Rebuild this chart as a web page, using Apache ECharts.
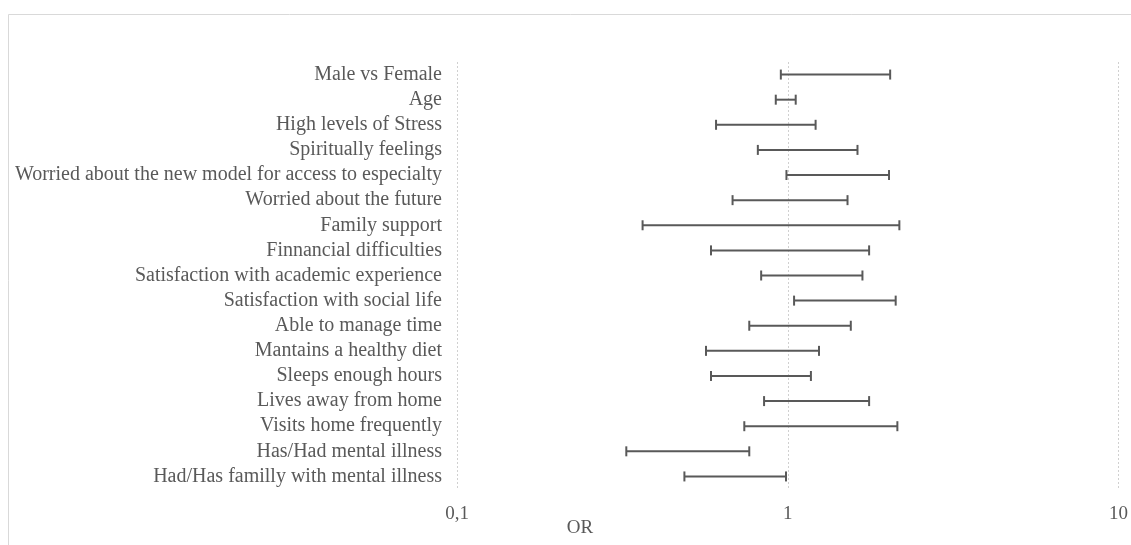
<!DOCTYPE html>
<html>
<head>
<meta charset="utf-8">
<script src="https://cdn.jsdelivr.net/npm/echarts@6/dist/echarts.min.js"></script>
<style>
html,body{margin:0;padding:0;background:#fff;}
#chart{width:1131px;height:545px;}
</style>
</head>
<body>
<div id="chart"></div>
<script>
var categories = [
  "Male vs Female",
  "Age",
  "High levels of Stress",
  "Spiritually feelings",
  "Worried about the new model for access to especialty",
  "Worried about the future",
  "Family support",
  "Finnancial difficulties",
  "Satisfaction with academic experience",
  "Satisfaction with social life",
  "Able to manage time",
  "Mantains a healthy diet",
  "Sleeps enough hours",
  "Lives away from home",
  "Visits home frequently",
  "Has/Had mental illness",
  "Had/Has familly with mental illness"
];
var lowerCI = [0.953, 0.920, 0.607, 0.812, 0.991, 0.681, 0.364, 0.586, 0.831, 1.045, 0.765, 0.566, 0.586, 0.848, 0.739, 0.325, 0.487];
var upperCI = [2.04, 1.057, 1.214, 1.625, 2.024, 1.516, 2.175, 1.762, 1.682, 2.12, 1.551, 1.243, 1.175, 1.762, 2.145, 0.765, 0.988];
var xTicks = [0.1, 1, 10];
var axisTitle = "OR";

var chart = echarts.init(document.getElementById('chart'));
var seriesData = categories.map(function (c, i) { return [lowerCI[i], upperCI[i], i]; });
var lineColor = '#595959';
var font = '"Liberation Serif", "Times New Roman", serif';

chart.setOption({
  animation: false,
  backgroundColor: '#ffffff',
  grid: { left: 457, right: 9, top: 62, bottom: 56, containLabel: false },
  xAxis: {
    type: 'log',
    logBase: 10,
    min: xTicks[0],
    max: xTicks[xTicks.length - 1],
    axisLine: { show: false },
    axisTick: { show: false },
    splitLine: { show: true, lineStyle: { color: '#d0d0d0', type: [2, 2], width: 1 } },
    axisLabel: {
      color: '#595959',
      fontFamily: font,
      fontSize: 19,
      margin: 16,
      formatter: function (v) { return String(v).replace('.', ','); }
    }
  },
  yAxis: {
    type: 'category',
    data: categories,
    inverse: true,
    axisLine: { show: false },
    axisTick: { show: false },
    splitLine: { show: false },
    axisLabel: {
      color: '#595959',
      fontFamily: font,
      fontSize: 20,
      margin: 15,
      interval: 0
    }
  },
  graphic: [
    {
      type: 'rect',
      shape: { x: 8.5, y: 14.5, width: 2000, height: 2000 },
      style: { fill: 'none', stroke: '#d9d9d9', lineWidth: 1 },
      silent: true
    },
    {
      type: 'text',
      x: 580,
      y: 528,
      style: {
        text: axisTitle,
        fill: '#595959',
        font: '19px ' + font,
        align: 'center',
        verticalAlign: 'middle'
      }
    }
  ],
  series: [{
    type: 'custom',
    data: seriesData,
    encode: { x: [0, 1], y: 2 },
    renderItem: function (params, api) {
      var lo = api.coord([api.value(0), api.value(2)]);
      var hi = api.coord([api.value(1), api.value(2)]);
      var h = 5;
      var st = { stroke: lineColor, lineWidth: 2 };
      return {
        type: 'group',
        children: [
          { type: 'line', shape: { x1: lo[0], y1: lo[1], x2: hi[0], y2: hi[1] }, style: st },
          { type: 'line', shape: { x1: lo[0], y1: lo[1] - h, x2: lo[0], y2: lo[1] + h }, style: st },
          { type: 'line', shape: { x1: hi[0], y1: hi[1] - h, x2: hi[0], y2: hi[1] + h }, style: st }
        ]
      };
    }
  }]
});
</script>
</body>
</html>
